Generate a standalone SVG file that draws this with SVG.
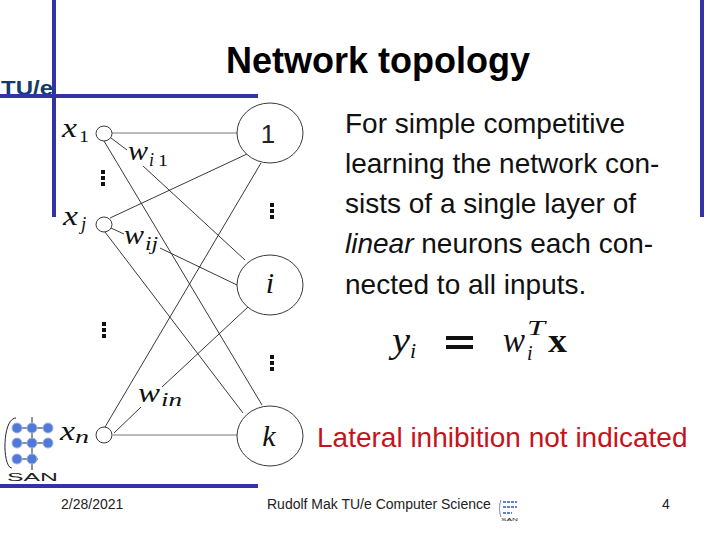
<svg xmlns="http://www.w3.org/2000/svg" width="720" height="540" viewBox="0 0 720 540">
<style>
.bar{fill:#3333a6}
.n{fill:#fff;stroke:#222;stroke-width:.9}
.e{stroke:#222;stroke-width:.9;fill:none}
.g{stroke:#777;stroke-width:1;fill:none}
.s{font-family:"Liberation Sans",Arial,sans-serif}
.m{font-family:"Liberation Serif","Times New Roman",serif;font-style:italic;fill:#111}
.r{font-family:"Liberation Serif","Times New Roman",serif;fill:#111}
.f{font-size:14px;fill:#222}
.d{fill:#111}
.sn{fill:#4f7ad8;stroke:#9db4e6;stroke-width:1}
.sl{stroke:#223;stroke-width:1;fill:none}
</style>
<rect width="720" height="540" fill="#fff"/>
<text x="1" y="95" font-family="'Liberation Sans',Arial,sans-serif" font-size="21" font-weight="700" fill="#123a6b" textLength="52" lengthAdjust="spacingAndGlyphs">TU/e</text>
<rect class="bar" x="52" y="0" width="4" height="217"/>
<rect class="bar" x="700" y="0" width="4" height="217"/>
<rect class="bar" x="0" y="94" width="258" height="4"/>
<rect class="bar" x="0" y="484" width="258" height="4"/>
<text class="s" x="378" y="73" text-anchor="middle" font-size="36" font-weight="700" fill="#000">Network topology</text>
<g id="connectors">
<path class="g" d="M112 133H237M113 435H237"/>
<path class="e" d="M111 138L127 150M104 141L262 405M110 218L247 154M111 228L124 234M105 232L243 413M160 248L237 285M143 166L245 260M261 163L105 427M248 307L162 387M141 407L114 433"/>
</g>
<g id="x1"><ellipse class="n" cx="104" cy="133.500" rx="8" ry="7.500"/><text class="m" x="62" y="137" font-size="27" textLength="15" lengthAdjust="spacingAndGlyphs">x</text><text class="r" x="79" y="142" font-size="17" textLength="10" lengthAdjust="spacingAndGlyphs">1</text></g>
<g id="xj"><ellipse class="n" cx="104" cy="224.500" rx="8" ry="7.500"/><text class="m" x="63" y="225" font-size="27" textLength="15" lengthAdjust="spacingAndGlyphs">x</text><text class="m" x="81" y="230" font-size="19">j</text></g>
<g id="xn"><ellipse class="n" cx="104" cy="435" rx="8" ry="8"/><text class="m" x="60" y="440" font-size="27" textLength="15" lengthAdjust="spacingAndGlyphs">x</text><text class="m" x="75" y="443" font-size="18" textLength="14" lengthAdjust="spacingAndGlyphs">n</text></g>
<g id="n1"><ellipse class="n" cx="270" cy="133" rx="33" ry="30"/><text class="s" x="268" y="143" text-anchor="middle" font-size="26" fill="#222">1</text></g>
<g id="ni"><ellipse class="n" cx="270" cy="285" rx="33" ry="30"/><text class="m" x="270" y="293" text-anchor="middle" font-size="30">i</text></g>
<g id="nk"><ellipse class="n" cx="270" cy="436" rx="33" ry="30"/><text class="m" x="269" y="446" text-anchor="middle" font-size="30">k</text></g>
<g id="weights">
<text class="m" x="128" y="160" font-size="27" textLength="20" lengthAdjust="spacingAndGlyphs">w</text><text class="m" x="149" y="166" font-size="18">i</text><text class="r" x="158" y="166" font-size="17" textLength="10" lengthAdjust="spacingAndGlyphs">1</text>
<text class="m" x="124" y="244" font-size="27" textLength="20" lengthAdjust="spacingAndGlyphs">w</text><text class="m" x="145" y="250" font-size="18" textLength="13" lengthAdjust="spacingAndGlyphs">ij</text>
<text class="m" x="138" y="402" font-size="27" textLength="22" lengthAdjust="spacingAndGlyphs">w</text><text class="m" x="161" y="406" font-size="18" textLength="21" lengthAdjust="spacingAndGlyphs">in</text>
</g>
<g id="dots" class="d">
<rect x="101" y="170" width="4" height="4"/><rect x="101" y="176" width="4" height="4"/><rect x="101" y="182" width="4" height="4"/>
<rect x="270" y="203" width="4" height="4"/><rect x="270" y="209" width="4" height="4"/><rect x="270" y="215" width="4" height="4"/>
<rect x="102" y="322" width="4" height="4"/><rect x="102" y="328" width="4" height="4"/><rect x="102" y="334" width="4" height="4"/>
<rect x="270" y="355" width="4" height="4"/><rect x="270" y="361" width="4" height="4"/><rect x="270" y="367" width="4" height="4"/>
</g>
<g class="s" font-size="28" fill="#111">
<text x="345" y="133">For simple competitive</text>
<text x="345" y="173">learning the network con-</text>
<text x="345" y="213">sists of a single layer of</text>
<text x="345" y="253"><tspan font-style="italic">linear</tspan> neurons each con-</text>
<text x="345" y="294">nected to all inputs.</text>
</g>
<g id="formula">
<text class="m" x="392" y="352" font-size="36" textLength="18" lengthAdjust="spacingAndGlyphs">y</text><text class="m" x="410" y="358" font-size="22">i</text>
<rect x="446" y="336" width="27" height="4" fill="#111"/><rect x="446" y="345" width="27" height="4" fill="#111"/>
<text class="m" x="503" y="352" font-size="36" textLength="22" lengthAdjust="spacingAndGlyphs">w</text><text class="m" x="527" y="335" font-size="22" textLength="18" lengthAdjust="spacingAndGlyphs">T</text><text class="m" x="527" y="360" font-size="20">i</text>
<text class="r" x="548" y="352" font-size="34" font-weight="700" textLength="19" lengthAdjust="spacingAndGlyphs">x</text>
</g>
<text class="s" x="317" y="447" font-size="28" fill="#c4141c">Lateral inhibition not indicated</text>
<g id="san">
<path class="sl" d="M16 418C2 418 2 468 12 468M32 417V470M13 428H52M13 443H52M13 459H38"/>
<g class="sn"><circle cx="17" cy="428" r="5"/><circle cx="32" cy="428" r="5"/><circle cx="48" cy="428" r="5"/><circle cx="17" cy="443" r="5"/><circle cx="32" cy="443" r="5"/><circle cx="48" cy="443" r="5"/><circle cx="17" cy="459" r="5"/><circle cx="32" cy="459" r="5"/></g>
<text x="7" y="481" font-family="'Liberation Sans',Arial,sans-serif" font-size="11" textLength="51" lengthAdjust="spacingAndGlyphs" fill="#222">SAN</text>
</g>
<text class="s f" x="61" y="509">2/28/2021</text>
<text class="s f" x="267" y="509">Rudolf Mak TU/e Computer Science</text>
<text class="s f" x="662" y="509">4</text>
<g id="san-small">
<path d="M501 500C499 505 499 512 501 517" stroke="#889" fill="none"/>
<path d="M503 502H517M503 507H517M503 513H512" stroke="#5b82d8" stroke-width="2" stroke-dasharray="3 1" fill="none"/>
<text x="501" y="521" font-family="'Liberation Sans',Arial,sans-serif" font-size="4" textLength="17" lengthAdjust="spacingAndGlyphs" fill="#333">SAN</text>
</g>
</svg>
